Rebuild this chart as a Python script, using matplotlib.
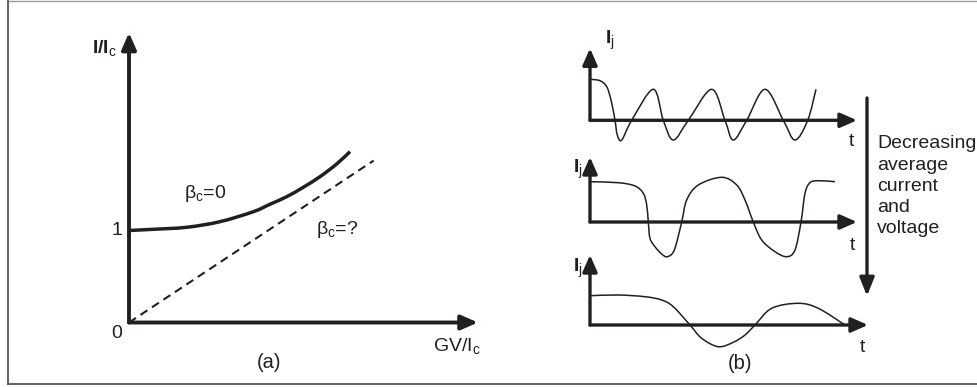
"""
Sketch of the junction I-V characteristic (a) and the junction current
waveforms for decreasing bias (b).
"""

import numpy as np
import matplotlib
matplotlib.use('Agg')
import matplotlib.pyplot as plt
from matplotlib.path import Path
from matplotlib.patches import PathPatch
from matplotlib.transforms import Affine2D

plt.rcParams['font.family'] = ['Liberation Sans', 'DejaVu Sans']
plt.rcParams['mathtext.fontset'] = 'custom'
plt.rcParams['mathtext.rm'] = 'Liberation Sans'
plt.rcParams['mathtext.it'] = 'Liberation Sans:italic'
plt.rcParams['mathtext.bf'] = 'Liberation Sans:bold'

INK = '#231f20'

# (a) I-V curves, in units of GV/Ic and I/Ic
iv_beta0_v = [0.0, 0.173, 0.415, 0.655, 0.894, 1.014, 1.134, 1.254, 1.374, 1.494, 1.590]
iv_beta0_i = [1.0, 1.013, 1.035, 1.096, 1.204, 1.285, 1.367, 1.470, 1.585, 1.723, 1.857]
ohmic_v = [0.0, 1.76]
ohmic_i = [0.0, 1.76]
iv_axis_len = (2.51, 3.15)

# (b) junction current vs time, arbitrary units (three bias levels)
top_t = [0, 10, 16.7, 21, 25, 27.3, 31.7, 41.7, 63.3, 73.3, 83.3, 98.3, 121.7,
         135, 143.3, 156.7, 175, 193.3, 205, 217.7, 226]
top_i = [41, 39.6, 33.6, 20.3, 0, -14.7, -19.7, 0, 31, 0, -19.7, 0, 31,
         0, -19.7, 0, 31, 0, -19.7, 0, 31]

mid_t = [0, 28.3, 45, 53.3, 56.7, 58.3, 60, 65, 71.7, 77.3, 84.3, 91.7, 96.7,
         108.3, 131.7, 146.7, 155, 163.3, 171.7, 185, 196.7, 205, 211, 215,
         220, 228.3, 245]
mid_i = [40.3, 39.3, 36, 28.7, 17, 0, -16.3, -24.7, -32, -34.7, -28, 0, 22,
         37, 44.7, 37, 22, 0, -18, -29.7, -34.7, -28, 0, 28.7,
         39.3, 41.3, 40.3]

low_t = [0, 28.3, 55, 71.7, 83.3, 100, 111.7, 128.3, 143.3, 155, 165, 181.7,
         208.3, 228.3, 255]
low_i = [29.3, 30, 28.3, 25, 18.3, 0, -13.3, -21.7, -17.3, -10, 0, 16.7,
         21.7, 16.7, 0]

wave_axis_len = [(267, 72), (267, 65), (278, 70)]
wave_origin_y = [120.3, 222.0, 325.0]

side_note = ['Decreasing', 'average', 'current', 'and', 'voltage']


def smooth_curve(xs, ys, transform, **kw):
    """Catmull-Rom curve through the given points, drawn as cubic Beziers."""
    pts = np.column_stack([xs, ys]).astype(float)
    n = len(pts)
    verts = [pts[0]]
    codes = [Path.MOVETO]
    for k in range(n - 1):
        p0 = pts[k - 1] if k > 0 else pts[k]
        p1, p2 = pts[k], pts[k + 1]
        p3 = pts[k + 2] if k + 2 < n else pts[k + 1]
        verts += [p1 + (p2 - p0) / 6.0, p2 - (p3 - p1) / 6.0, p2]
        codes += [Path.CURVE4] * 3
    patch = PathPatch(Path(verts, codes), transform=transform, fill=False,
                      edgecolor=INK, **kw)
    return patch


def axis_arrow(ax, start, end, coords, lw):
    ax.annotate('', xy=end, xytext=start, xycoords=coords, textcoords=coords,
                arrowprops=dict(arrowstyle='-|>,head_length=0.5,head_width=0.22',
                                mutation_scale=20, lw=lw, color=INK,
                                shrinkA=0, shrinkB=0))


fig = plt.figure(figsize=(9.77, 3.87), dpi=100)
ax = fig.add_axes([0, 0, 1, 1])
ax.set_xlim(0, 977)
ax.set_ylim(387, 0)
ax.axis('off')

# outer frame
ax.plot([7.5, 977], [0.7, 0.7], color='#9a9a9a', lw=1.0)
ax.plot([7.5, 7.5], [0.7, 384], color='#555555', lw=1.3)
ax.plot([7.5, 977], [384, 384], color='#555555', lw=1.3)

# ---- panel (a) ----
pa = Affine2D().scale(139, -92).translate(129, 322.5) + ax.transData

axis_arrow(ax, (0, 0), (0, iv_axis_len[1]), pa, 2.8)
axis_arrow(ax, (0, 0), (iv_axis_len[0], 0), pa, 2.8)

ax.add_patch(smooth_curve(iv_beta0_v, iv_beta0_i, pa, lw=2.5, capstyle='butt'))
ax.plot(ohmic_v, ohmic_i, transform=pa, color=INK, lw=1.5, ls=(0, (4, 2.6)))

ax.text(117, 53.5, r'I/I$_{\rm c}$', fontsize=14, fontweight='bold', color=INK,
        ha='right', va='baseline')
ax.text(-0.085, 1.0, '1', transform=pa, fontsize=14, color=INK,
        ha='center', va='center')
ax.text(-0.085, -0.12, '0', transform=pa, fontsize=14, color=INK,
        ha='center', va='center')
ax.text(481, 351, r'GV/I$_{\rm c}$', fontsize=14, color=INK,
        ha='right', va='baseline')
ax.text(269.5, 368, '(a)', fontsize=14.5, color=INK, ha='center', va='baseline')
ax.text(184, 198, r'β$_{\rm c}$=0', fontsize=14, color=INK, ha='left', va='baseline')
ax.text(316, 233.5, r'β$_{\rm c}$=?', fontsize=14, color=INK, ha='left', va='baseline')

# ---- panel (b) ----
waves = [(top_t, top_i), (mid_t, mid_i), (low_t, low_i)]
ij_pos = [(605, 43.5), (573, 173), (573, 272.5)]
t_pos = [(851.5, 146.5), (852.5, 249.5), (862.5, 351.5)]
for (wt, wi), oy, (tlen, ilen), ij, tp in zip(waves, wave_origin_y,
                                             wave_axis_len, ij_pos, t_pos):
    pb = Affine2D().scale(1, -1).translate(590, oy) + ax.transData
    axis_arrow(ax, (0, 0), (0, ilen), pb, 2.4)
    axis_arrow(ax, (0, 0), (tlen, 0), pb, 2.4)
    ax.add_patch(smooth_curve(wt, wi, pb, lw=1.1))
    ax.text(ij[0], ij[1], r'I$_{\rm j}$', fontsize=14, fontweight='bold',
            color=INK, ha='left', va='baseline')
    ax.text(tp[0], tp[1], 't', fontsize=14, color=INK, ha='center', va='baseline')

ax.text(740, 369, '(b)', fontsize=14.5, color=INK, ha='center', va='baseline')

# bias direction arrow and note
ax.annotate('', xy=(867, 296), xytext=(867, 98), xycoords='data',
            arrowprops=dict(arrowstyle='-|>,head_length=0.55,head_width=0.22',
                            mutation_scale=20, lw=2.4, color=INK,
                            shrinkA=0, shrinkB=0))
for k, line in enumerate(side_note):
    ax.text(877, 148.3 + 21.25 * k, line, fontsize=14, color=INK,
            ha='left', va='baseline')

fig.savefig('out.png', dpi=100)
plt.close(fig)
